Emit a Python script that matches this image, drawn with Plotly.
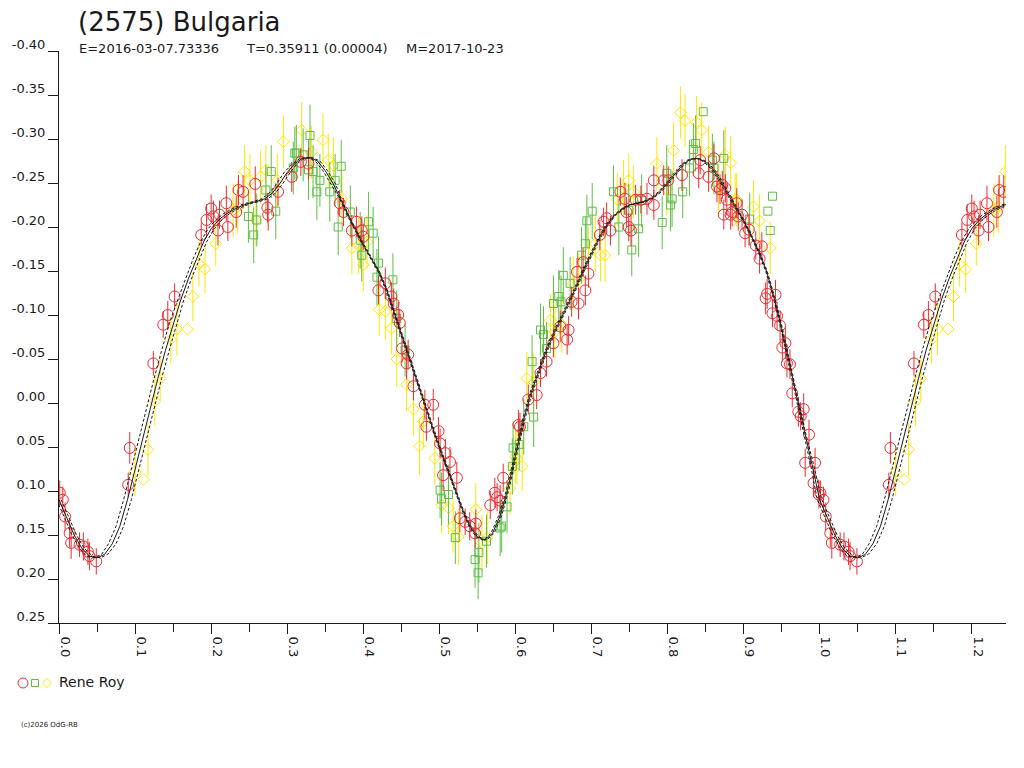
import plotly.graph_objects as go

# ---------------- data ----------------
red_phase = [0.001, 0.005, 0.008, 0.014, 0.016, 0.027, 0.032, 0.038, 0.040, 0.049,
             0.091, 0.093, 0.124, 0.137, 0.143, 0.152, 0.187, 0.194, 0.200, 0.203,
             0.209, 0.211, 0.220, 0.222, 0.233, 0.236, 0.242, 0.258, 0.274, 0.275,
             0.288, 0.306, 0.318, 0.328, 0.369, 0.374, 0.385, 0.391, 0.398, 0.400,
             0.420, 0.429, 0.437, 0.440, 0.446, 0.448, 0.451, 0.457, 0.459, 0.466,
             0.481, 0.483, 0.492, 0.499, 0.501, 0.505, 0.508, 0.514, 0.523, 0.527,
             0.534, 0.540, 0.547, 0.548, 0.567, 0.573, 0.576, 0.580, 0.584, 0.604,
             0.606, 0.617, 0.628, 0.633, 0.641, 0.650, 0.659, 0.668, 0.670, 0.674,
             0.681, 0.683, 0.689, 0.692, 0.696, 0.711, 0.716, 0.720, 0.725, 0.738,
             0.744, 0.746, 0.749, 0.752, 0.758, 0.765, 0.773, 0.782, 0.782, 0.795,
             0.801, 0.819, 0.841, 0.843, 0.854, 0.861, 0.865, 0.869, 0.872, 0.874,
             0.876, 0.878, 0.883, 0.885, 0.891, 0.893, 0.898, 0.902, 0.907, 0.916,
             0.921, 0.924, 0.929, 0.931, 0.938, 0.942, 0.944, 0.948, 0.951, 0.955,
             0.957, 0.961, 0.964, 0.972, 0.975, 0.979, 0.981, 0.986, 0.992, 0.994,
             0.999]
red_mag = [0.102, 0.110, 0.129, 0.148, 0.159, 0.161, 0.163, 0.169, 0.174, 0.180,
           0.093, 0.051, -0.045, -0.089, -0.100, -0.121, -0.191, -0.208, -0.221, -0.212,
           -0.196, -0.214, -0.227, -0.200, -0.217, -0.242, -0.240, -0.249, -0.222, -0.214,
           -0.240, -0.257, -0.274, -0.272, -0.227, -0.217, -0.196, -0.206, -0.196, -0.189,
           -0.128, -0.136, -0.121, -0.113, -0.100, -0.091, -0.062, -0.045, -0.055, -0.019,
           0.002, 0.027, 0.002, 0.032, 0.046, 0.082, 0.057, 0.067, 0.085, 0.131,
           0.135, 0.140, 0.148, 0.137, 0.116, 0.102, 0.107, 0.111, 0.085, 0.025,
           0.027, -0.004, -0.009, -0.034, -0.047, -0.068, -0.087, -0.072, -0.083, -0.115,
           -0.149, -0.113, -0.160, -0.128, -0.147, -0.191, -0.206, -0.210, -0.196, -0.240,
           -0.232, -0.217, -0.200, -0.196, -0.231, -0.231, -0.232, -0.225, -0.253, -0.253,
           -0.253, -0.259, -0.261, -0.276, -0.257, -0.278, -0.246, -0.243, -0.248, -0.214,
           -0.244, -0.231, -0.214, -0.217, -0.227, -0.212, -0.214, -0.193, -0.197, -0.179,
           -0.164, -0.178, -0.119, -0.124, -0.102, -0.123, -0.099, -0.088, -0.063, -0.068,
           -0.045, -0.044, -0.011, 0.010, 0.015, 0.007, 0.068, 0.036, 0.091, 0.068,
           0.104]
red_err = [0.014, 0.015, 0.016, 0.016, 0.018, 0.014, 0.016, 0.015, 0.016, 0.015,
           0.014, 0.018, 0.014, 0.015, 0.016, 0.015, 0.014, 0.018, 0.016, 0.018,
           0.017, 0.016, 0.020, 0.016, 0.018, 0.017, 0.019, 0.020, 0.017, 0.018,
           0.016, 0.017, 0.016, 0.018, 0.015, 0.016, 0.018, 0.017, 0.016, 0.015,
           0.016, 0.018, 0.016, 0.017, 0.015, 0.016, 0.016, 0.018, 0.017, 0.016,
           0.017, 0.016, 0.018, 0.016, 0.017, 0.018, 0.016, 0.017, 0.018, 0.016,
           0.015, 0.016, 0.017, 0.016, 0.016, 0.017, 0.016, 0.018, 0.016, 0.017,
           0.016, 0.017, 0.016, 0.016, 0.017, 0.016, 0.018, 0.017, 0.016, 0.017,
           0.016, 0.018, 0.016, 0.017, 0.016, 0.017, 0.016, 0.018, 0.017, 0.016,
           0.018, 0.017, 0.016, 0.018, 0.017, 0.016, 0.018, 0.017, 0.016, 0.017,
           0.016, 0.018, 0.017, 0.016, 0.017, 0.016, 0.018, 0.017, 0.016, 0.017,
           0.016, 0.018, 0.017, 0.016, 0.017, 0.016, 0.017, 0.016, 0.018, 0.016,
           0.017, 0.016, 0.018, 0.017, 0.016, 0.017, 0.016, 0.017, 0.016, 0.018,
           0.016, 0.017, 0.016, 0.017, 0.016, 0.018, 0.016, 0.017, 0.016, 0.017,
           0.016]

green_phase = [0.249, 0.256, 0.260, 0.272, 0.279, 0.285, 0.308, 0.310, 0.312, 0.321,
               0.328, 0.330, 0.334, 0.339, 0.343, 0.356, 0.363, 0.367, 0.371, 0.383,
               0.396, 0.398, 0.407, 0.413, 0.418, 0.420, 0.439, 0.444, 0.455, 0.501,
               0.503, 0.512, 0.521, 0.547, 0.551, 0.552, 0.562, 0.580, 0.582, 0.589,
               0.596, 0.597, 0.605, 0.611, 0.622, 0.624, 0.633, 0.637, 0.641, 0.650,
               0.657, 0.660, 0.663, 0.672, 0.687, 0.692, 0.694, 0.701, 0.729, 0.736,
               0.749, 0.753, 0.762, 0.766, 0.793, 0.799, 0.804, 0.806, 0.820, 0.829,
               0.834, 0.837, 0.847, 0.859, 0.861, 0.874, 0.908, 0.932, 0.935, 0.938]
green_mag = [-0.212, -0.191, -0.208, -0.242, -0.263, -0.218, -0.267, -0.284, -0.284, -0.282,
             -0.265, -0.304, -0.263, -0.240, -0.253, -0.240, -0.253, -0.200, -0.269, -0.217,
             -0.185, -0.168, -0.206, -0.193, -0.143, -0.159, -0.140, -0.096, -0.060, 0.099,
             0.109, 0.104, 0.153, 0.178, 0.193, 0.170, 0.157, 0.142, 0.140, 0.118,
             0.072, 0.051, 0.047, 0.027, -0.047, 0.016, -0.083, -0.078, -0.062, -0.113,
             -0.121, -0.115, -0.145, -0.136, -0.168, -0.181, -0.207, -0.218, -0.240, -0.200,
             -0.219, -0.174, -0.198, -0.230, -0.205, -0.261, -0.225, -0.232, -0.240, -0.267,
             -0.288, -0.295, -0.331, -0.276, -0.267, -0.278, -0.209, -0.218, -0.196, -0.235]
green_err = [0.030, 0.032, 0.030, 0.028, 0.030, 0.032, 0.030, 0.030, 0.032, 0.030,
             0.034, 0.035, 0.030, 0.032, 0.030, 0.034, 0.030, 0.032, 0.030, 0.030,
             0.032, 0.030, 0.034, 0.030, 0.032, 0.030, 0.030, 0.032, 0.030, 0.032,
             0.030, 0.034, 0.030, 0.032, 0.030, 0.034, 0.030, 0.032, 0.030, 0.030,
             0.032, 0.030, 0.030, 0.032, 0.030, 0.034, 0.030, 0.032, 0.030, 0.032,
             0.030, 0.030, 0.032, 0.030, 0.032, 0.030, 0.030, 0.032, 0.030, 0.032,
             0.030, 0.030, 0.032, 0.030, 0.030, 0.032, 0.030, 0.032, 0.030, 0.032,
             0.030, 0.032, 0.000, 0.030, 0.030, 0.032, 0.030, 0.000, 0.000, 0.000]

yellow_phase = [0.100, 0.111, 0.117, 0.126, 0.133, 0.147, 0.155, 0.169, 0.176, 0.184,
                0.192, 0.206, 0.229, 0.235, 0.244, 0.251, 0.259, 0.265, 0.272, 0.287,
                0.295, 0.319, 0.332, 0.347, 0.354, 0.361, 0.372, 0.385, 0.394, 0.400,
                0.405, 0.421, 0.429, 0.437, 0.444, 0.457, 0.466, 0.474, 0.479, 0.494,
                0.503, 0.512, 0.518, 0.525, 0.548, 0.556, 0.563, 0.593, 0.600, 0.602,
                0.609, 0.615, 0.624, 0.646, 0.652, 0.661, 0.676, 0.683, 0.696, 0.705,
                0.712, 0.718, 0.734, 0.742, 0.749, 0.755, 0.786, 0.799, 0.808, 0.817,
                0.823, 0.838, 0.845, 0.854, 0.867, 0.876, 0.883, 0.889, 0.891, 0.913,
                0.921, 0.935]
yellow_mag = [0.078, 0.087, 0.053, -0.002, -0.028, -0.072, -0.084, -0.084, -0.121, -0.158,
              -0.152, -0.181, -0.219, -0.223, -0.263, -0.253, -0.208, -0.257, -0.265, -0.253,
              -0.297, -0.310, -0.285, -0.299, -0.276, -0.270, -0.232, -0.176, -0.179, -0.157,
              -0.183, -0.106, -0.104, -0.085, -0.050, -0.021, 0.007, 0.049, 0.021, 0.063,
              0.116, 0.119, 0.140, 0.152, 0.121, 0.159, 0.153, 0.097, 0.061, 0.063,
              0.072, -0.028, -0.024, -0.094, -0.081, -0.089, -0.136, -0.140, -0.170, -0.181,
              -0.168, -0.168, -0.231, -0.244, -0.253, -0.240, -0.272, -0.243, -0.287, -0.330,
              -0.321, -0.319, -0.310, -0.285, -0.242, -0.282, -0.273, -0.231, -0.231, -0.223,
              -0.207, -0.176]
yellow_err = [0.028, 0.000, 0.030, 0.028, 0.025, 0.027, 0.030, 0.000, 0.028, 0.025,
              0.027, 0.025, 0.030, 0.030, 0.030, 0.030, 0.030, 0.030, 0.028, 0.030,
              0.030, 0.032, 0.030, 0.030, 0.030, 0.032, 0.030, 0.030, 0.032, 0.030,
              0.030, 0.030, 0.032, 0.030, 0.032, 0.030, 0.030, 0.032, 0.030, 0.030,
              0.032, 0.030, 0.030, 0.032, 0.030, 0.032, 0.030, 0.030, 0.030, 0.030,
              0.028, 0.030, 0.032, 0.030, 0.030, 0.032, 0.030, 0.030, 0.030, 0.032,
              0.030, 0.030, 0.030, 0.032, 0.030, 0.030, 0.030, 0.030, 0.032, 0.030,
              0.030, 0.030, 0.032, 0.030, 0.030, 0.032, 0.030, 0.030, 0.030, 0.030,
              0.030, 0.030]

# Fitted lightcurve (phase 0..1) and its phase uncertainty band
curve_phase = [i / 100 for i in range(101)]
curve_mag = [0.110, 0.130, 0.150, 0.165, 0.174, 0.176, 0.172, 0.160, 0.140, 0.110,
             0.075, 0.040, 0.005, -0.028, -0.060, -0.090, -0.117, -0.141, -0.163, -0.183,
             -0.198, -0.208, -0.215, -0.220, -0.224, -0.227, -0.229, -0.232, -0.238, -0.249,
             -0.262, -0.272, -0.278, -0.279, -0.275, -0.264, -0.250, -0.232, -0.213, -0.196,
             -0.180, -0.165, -0.150, -0.130, -0.105, -0.080, -0.053, -0.027, 0.000, 0.025,
             0.050, 0.073, 0.097, 0.120, 0.140, 0.152, 0.156, 0.148, 0.128, 0.098,
             0.060, 0.022, -0.010, -0.035, -0.058, -0.078, -0.096, -0.114, -0.132, -0.152,
             -0.170, -0.187, -0.202, -0.213, -0.220, -0.225, -0.227, -0.229, -0.233, -0.240,
             -0.250, -0.261, -0.271, -0.277, -0.278, -0.274, -0.265, -0.252, -0.237, -0.222,
             -0.207, -0.190, -0.172, -0.150, -0.120, -0.085, -0.045, -0.005, 0.032, 0.070,
             0.110]
curve_shift = [0.003, 0.003, 0.003, 0.003, 0.004, 0.004, 0.004, 0.005, 0.005, 0.005,
               0.005, 0.005, 0.005, 0.005, 0.005, 0.005, 0.004, 0.004, 0.004, 0.004,
               0.004, 0.004, 0.004, 0.004, 0.004, 0.004, 0.004, 0.004, 0.004, 0.004,
               0.004, 0.003, 0.003, 0.003, 0.003, 0.003, 0.003, 0.001, 0.001, 0.001,
               0.001, 0.001, 0.001, 0.001, 0.001, 0.001, 0.001, 0.001, 0.001, 0.001,
               0.001, 0.001, 0.001, 0.001, 0.001, 0.002, 0.002, 0.002, 0.002, 0.0015,
               0.0015, 0.0015, 0.0015, 0.0015, 0.0015, 0.0015, 0.0015, 0.0015, 0.0015, 0.0015,
               0.0015, 0.0015, 0.0015, 0.0015, 0.0015, 0.0015, 0.002, 0.002, 0.002, 0.002,
               0.002, 0.002, 0.002, 0.002, 0.002, 0.002, 0.002, 0.002, 0.002, 0.001,
               0.001, 0.001, 0.001, 0.001, 0.001, 0.001, 0.001, 0.001, 0.001, 0.002,
               0.003]

x_ticks = [0.0, 0.1, 0.2, 0.3, 0.4, 0.5, 0.6, 0.7, 0.8, 0.9, 1.0, 1.1, 1.2]
y_ticks = [-0.40, -0.35, -0.30, -0.25, -0.20, -0.15, -0.10, -0.05, 0.00,
           0.05, 0.10, 0.15, 0.20, 0.25]

title_text = "(2575) Bulgaria"
sub_epoch = "E=2016-03-07.73336"
sub_period = "T=0.35911 (0.00004)"
sub_mid = "M=2017-10-23"
observer = "Rene Roy"
copyright_text = "(c)2026 OdG-RB"

X_MAX = 1.245

# ---------------- helpers ----------------
def wrap(ph, mg, er):
    xs, ys, es = list(ph), list(mg), list(er)
    for p, m, e in zip(ph, mg, er):
        if p + 1 <= X_MAX:
            xs.append(p + 1)
            ys.append(m)
            es.append(e)
    return xs, ys, es


def wrap_curve(ph, mg, sh):
    xs, ys, ss = list(ph), list(mg), list(sh)
    for p, m, s in zip(ph[1:], mg[1:], sh[1:]):
        if p + 1 <= X_MAX + 0.01:
            xs.append(p + 1)
            ys.append(m)
            ss.append(s)
    return xs, ys, ss


RED = "#ee2b33"
GREEN = "#5fbd45"
YELLOW = "#ffe600"
INK = "#1a1a1a"
FONT = "DejaVu Sans, Liberation Sans, Arial, sans-serif"

fig = go.Figure()

series = [
    (yellow_phase, yellow_mag, yellow_err, YELLOW, "diamond-open", 9),
    (green_phase, green_mag, green_err, GREEN, "square-open", 8),
    (red_phase, red_mag, red_err, RED, "circle-open", 11),
]
for ph, mg, er, col, sym, size in series:
    xs, ys, es = wrap(ph, mg, er)
    fig.add_trace(go.Scatter(
        x=xs, y=ys, mode="markers",
        marker=dict(symbol=sym, size=size, color=col, line=dict(width=1, color=col)),
        error_y=dict(type="data", array=es, visible=True, color=col, thickness=1, width=0),
        showlegend=False, hoverinfo="skip",
    ))

cx, cy, cs = wrap_curve(curve_phase, curve_mag, curve_shift)
fig.add_trace(go.Scatter(x=[p - s for p, s in zip(cx, cs)], y=cy, mode="lines",
                         line=dict(color=INK, width=1, dash="3px,2px"),
                         showlegend=False, hoverinfo="skip"))
fig.add_trace(go.Scatter(x=[p + s for p, s in zip(cx, cs)], y=cy, mode="lines",
                         line=dict(color=INK, width=1, dash="3px,2px"),
                         showlegend=False, hoverinfo="skip"))
fig.add_trace(go.Scatter(x=cx, y=cy, mode="lines",
                         line=dict(color=INK, width=1),
                         showlegend=False, hoverinfo="skip"))

W, H = 1024, 768
ML, MR, MT, MB = 59, 18, 51, 145
PW, PH = W - ML - MR, H - MT - MB


def px2paper(px, py):
    return (px - ML) / PW, (H - MB - py) / PH


annotations = []
tx, ty = px2paper(76, 22)
annotations.append(dict(text=title_text, x=tx, y=ty, xref="paper", yref="paper",
                        xanchor="left", yanchor="middle", showarrow=False,
                        font=dict(family=FONT, size=26, color=INK)))
for label, pxx in [(sub_epoch, 77), (sub_period, 244), (sub_mid, 404)]:
    sx, sy = px2paper(pxx, 48)
    annotations.append(dict(text=label, x=sx, y=sy, xref="paper", yref="paper",
                            xanchor="left", yanchor="middle", showarrow=False,
                            font=dict(family=FONT, size=13, color=INK)))
lx, ly = px2paper(57, 682)
annotations.append(dict(text=observer, x=lx, y=ly, xref="paper", yref="paper",
                        xanchor="left", yanchor="middle", showarrow=False,
                        font=dict(family=FONT, size=14, color=INK)))
cxp, cyp = px2paper(19, 725)
annotations.append(dict(text=copyright_text, x=cxp, y=cyp, xref="paper", yref="paper",
                        xanchor="left", yanchor="middle", showarrow=False,
                        font=dict(family=FONT, size=7, color=INK)))

shapes = []
ax_, ay_ = px2paper(23, 683)
shapes.append(dict(type="circle", xref="paper", yref="paper", xsizemode="pixel",
                   ysizemode="pixel", xanchor=ax_, yanchor=ay_, x0=-5, x1=5, y0=-5, y1=5,
                   line=dict(color=RED, width=1)))
bx_, by_ = px2paper(35, 683)
shapes.append(dict(type="rect", xref="paper", yref="paper", xsizemode="pixel",
                   ysizemode="pixel", xanchor=bx_, yanchor=by_, x0=-3.5, x1=3.5, y0=-3.5, y1=3.5,
                   line=dict(color=GREEN, width=1)))
dx_, dy_ = px2paper(47, 683)
shapes.append(dict(type="path", xref="paper", yref="paper", xsizemode="pixel",
                   ysizemode="pixel", xanchor=dx_, yanchor=dy_,
                   path="M -4.5 0 L 0 4.5 L 4.5 0 L 0 -4.5 Z",
                   line=dict(color=YELLOW, width=1)))

fig.update_layout(
    width=W, height=H, autosize=False,
    margin=dict(l=ML, r=MR, t=MT, b=MB, pad=0),
    paper_bgcolor="white", plot_bgcolor="white",
    font=dict(family=FONT, size=13, color=INK),
    annotations=annotations, shapes=shapes,
    xaxis=dict(range=[0, X_MAX], tickvals=x_ticks, ticktext=[f"{v:.1f}" for v in x_ticks],
               tickangle=90, ticks="outside", ticklen=10, tickcolor=INK, tickwidth=1,
               minor=dict(dtick=0.05, tick0=0, ticks="outside", ticklen=8,
                          tickcolor=INK, tickwidth=1),
               showline=True, linecolor=INK, linewidth=1, showgrid=False,
               zeroline=False, ticklabelshift=6,
               tickfont=dict(family=FONT, size=13, color=INK)),
    yaxis=dict(range=[0.25, -0.40], tickvals=y_ticks, ticktext=[f"{v:.2f}" for v in y_ticks],
               ticks="outside", ticklen=10, tickcolor=INK, tickwidth=1,
               showline=True, linecolor=INK, linewidth=1, showgrid=False,
               zeroline=False, ticklabelshift=7, ticklabelstandoff=0,
               tickfont=dict(family=FONT, size=13, color=INK)),
)

fig.write_html("out.html", config={"displayModeBar": False},
               post_script="document.body.style.margin='0';")
